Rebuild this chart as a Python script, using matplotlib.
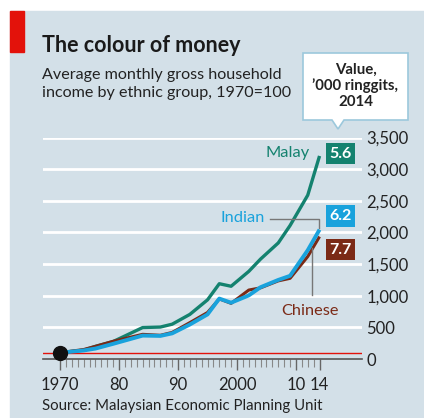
import matplotlib.pyplot as plt
from matplotlib.patches import Rectangle, Polygon

# survey years and income index (1970=100)
years = [1970, 1974, 1976, 1979, 1984, 1987, 1989, 1992, 1995, 1997, 1999,
         2002, 2004, 2007, 2009, 2012, 2014]
malay = [100, 140, 200, 276, 497, 505, 550, 705, 935, 1190, 1150,
         1385, 1580, 1835, 2110, 2590, 3210]
chinese = [100, 150, 200, 280, 390, 375, 420, 575, 735, 950, 880,
           1090, 1125, 1235, 1275, 1620, 1935]
indian = [100, 135, 165, 240, 370, 365, 405, 545, 705, 955, 890,
          1005, 1135, 1250, 1315, 1720, 2045]
values_2014 = ["5.6", "7.7", "6.2"]
xticks = [1970, 1980, 1990, 2000, 2010, 2014]
xticklabels = ["1970", "80", "90", "2000", "10", "14"]
yticks = [0, 500, 1000, 1500, 2000, 2500, 3000, 3500]

BG = "#d3e0e8"
TEAL = "#14826f"
BLUE = "#19a2dc"
BROWN = "#7b2a16"
FONT = "Lato"

W, H = 424, 418
fig = plt.figure(figsize=(W / 100, H / 100), dpi=100)
fig.patch.set_facecolor("white")


def fx(x):
    return x / W


def fy(y):
    return 1 - y / H


fig.patches.append(Rectangle((fx(10), 0), 1, fy(11), transform=fig.transFigure,
                             color=BG, zorder=-2))
fig.patches.append(Rectangle((fx(10), fy(52)), fx(14), 41 / H,
                             transform=fig.transFigure, color="#e3120b", zorder=-1))

fig.text(fx(42), fy(45), "The colour of money", fontsize=15.5, fontweight="bold",
         family=FONT, color="#1a1a1a", va="center", ha="left")
fig.text(fx(42), fy(84), "Average monthly gross household\nincome by ethnic group, 1970=100",
         fontsize=11.6, family=FONT, color="#222222", va="center", ha="left",
         linespacing=1.45)
fig.text(fx(42), fy(406), "Source: Malaysian Economic Planning Unit",
         fontsize=10.8, family=FONT, color="#222222", va="center", ha="left")

# callout box
box = Polygon([(fx(303), fy(53)), (fx(408), fy(53)), (fx(408), fy(120)),
               (fx(344), fy(120)), (fx(338), fy(129)), (fx(332), fy(120)),
               (fx(303), fy(120))], closed=True, transform=fig.transFigure,
              facecolor="white", edgecolor="#9cc8dc", lw=1.2, zorder=2)
fig.patches.append(box)
fig.text(fx(355.5), fy(86), "Value,\n\u2019000 ringgits,\n2014", fontsize=10.8,
         fontweight="bold", family=FONT, color="#222222", ha="center", va="center",
         linespacing=1.15, zorder=3)

ax = fig.add_axes([fx(43), fy(359), fx(362) - fx(43), fy(137.6) - fy(359)])
ax.set_facecolor("none")
ax.set_xlim(1967.1, 2021.2)
ax.set_ylim(0, 3500)
for s in ["top", "right", "left"]:
    ax.spines[s].set_visible(False)
ax.spines["bottom"].set_color("#555555")
ax.spines["bottom"].set_linewidth(1.2)

for v in yticks[1:]:
    ax.axhline(v, color="white", lw=2, zorder=1)
ax.axhline(100, color="#e3120b", lw=1, zorder=2)

ax.yaxis.tick_right()
ax.set_yticks(yticks)
ax.set_yticklabels([f"{v:,}" for v in yticks])
ax.tick_params(axis="y", length=0, pad=3, labelsize=12, labelcolor="#222222")
ax.set_xticks(xticks)
ax.set_xticklabels(xticklabels)
ax.set_xticks(range(1970, 2015), minor=True)
ax.tick_params(axis="x", which="major", length=8, width=1, color="#666666",
               labelsize=12, labelcolor="#222222", pad=5)
ax.tick_params(axis="x", which="minor", length=6, width=0.8, color="#888888")
for lab in ax.get_xticklabels() + ax.get_yticklabels():
    lab.set_family(FONT)

ax.plot(years, malay, color=TEAL, lw=2.4, zorder=4, solid_capstyle="butt")
ax.plot(years, chinese, color=BROWN, lw=2.2, zorder=4, solid_capstyle="butt")
ax.plot(years, indian, color=BLUE, lw=2.8, zorder=5, solid_capstyle="butt")
ax.plot([1970], [100], "o", color="#111111", ms=10, zorder=6, clip_on=False)

# series labels
fig.text(fx(310), fy(153), "Malay", fontsize=11.8, family=FONT, color=TEAL,
         ha="right", va="center")
fig.text(fx(265), fy(218), "Indian", fontsize=11.8, family=FONT, color=BLUE,
         ha="right", va="center")
fig.text(fx(310), fy(311), "Chinese", fontsize=11.8, family=FONT, color=BROWN,
         ha="center", va="center")
fig.lines.append(plt.Line2D([fx(270), fx(318.5), fx(318.5)], [fy(219), fy(219), fy(228)],
                            transform=fig.transFigure, color="#777777", lw=1, zorder=3))
fig.lines.append(plt.Line2D([fx(311.5), fx(311.5)], [fy(248), fy(295)],
                            transform=fig.transFigure, color="#777777", lw=1, zorder=3))

# 2014 value boxes
for txt, col, yc in zip(values_2014, [TEAL, BROWN, BLUE], [153.5, 249.5, 216]):
    fig.text(fx(340.5), fy(yc), txt, fontsize=11.5, fontweight="bold", family=FONT,
             color="white", ha="center", va="center",
             bbox=dict(boxstyle="square,pad=0.22", facecolor=col, edgecolor="none"))

fig.savefig("out.png", dpi=100)
